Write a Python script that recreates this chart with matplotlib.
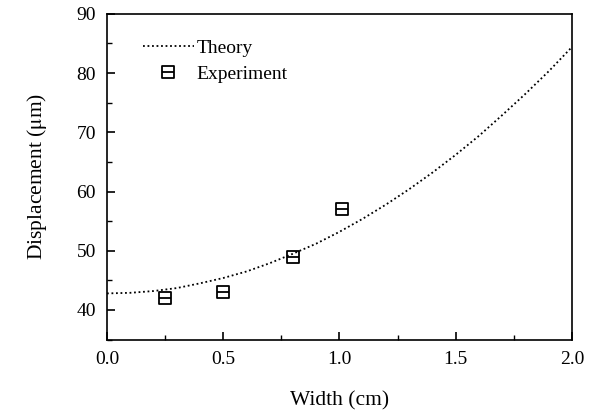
import matplotlib
matplotlib.use("Agg")
import matplotlib.pyplot as plt
from matplotlib.path import Path
from matplotlib.ticker import MultipleLocator

# Theory curve (width in cm, displacement in um)
theory_x = [0.0, 0.1, 0.2, 0.3, 0.4, 0.5, 0.6, 0.7, 0.8, 0.9, 1.0,
            1.1, 1.2, 1.3, 1.4, 1.5, 1.6, 1.7, 1.8, 1.9, 2.0]
theory_y = [42.8, 42.9, 43.2, 43.7, 44.5, 45.4, 46.5, 47.9, 49.5, 51.2, 53.2,
            55.4, 57.8, 60.4, 63.2, 66.2, 69.4, 72.9, 76.5, 80.3, 84.4]

# Measured points
exp_x = [0.25, 0.50, 0.80, 1.01]
exp_y = [42.0, 43.0, 49.0, 57.0]

x_ticks = [0.0, 0.5, 1.0, 1.5, 2.0]
y_ticks = [40, 50, 60, 70, 80, 90]

plt.rcParams["font.family"] = ["Liberation Serif", "DejaVu Serif"]
plt.rcParams["mathtext.fontset"] = "stix"

# square with a horizontal bar through the middle
box_marker = Path(
    [(-1, -1), (1, -1), (1, 1), (-1, 1), (-1, -1), (-1, 0), (1, 0)],
    [Path.MOVETO, Path.LINETO, Path.LINETO, Path.LINETO, Path.CLOSEPOLY,
     Path.MOVETO, Path.LINETO],
)

fig = plt.figure(figsize=(5.92, 4.12), dpi=100)
ax = fig.add_axes([0.1807, 0.1757, 0.7855, 0.7908])

ax.plot(theory_x, theory_y, color="black", linestyle=(0, (1, 1.5)),
        linewidth=1.3, label="Theory")
ax.plot(exp_x, exp_y, linestyle="none", marker=box_marker, markersize=8,
        markerfacecolor="none", markeredgecolor="black", markeredgewidth=1.3,
        label="Experiment")

ax.set_xlim(0.0, 2.0)
ax.set_ylim(35, 90)
ax.set_xticks(x_ticks)
ax.set_yticks(y_ticks)
ax.set_xticklabels([f"{v:.1f}" for v in x_ticks])
ax.xaxis.set_minor_locator(MultipleLocator(0.25))
ax.yaxis.set_minor_locator(MultipleLocator(5))
ax.tick_params(which="both", direction="in", top=False, right=False,
               labelsize=14, pad=8)
ax.tick_params(which="major", length=6, width=1.2)
ax.tick_params(which="minor", length=3.5, width=1.0)
for s in ax.spines.values():
    s.set_linewidth(1.2)

ax.set_xlabel("Width (cm)", fontsize=15.5, labelpad=17)
ax.set_ylabel("Displacement ($\\mathrm{\\mu}$m)", fontsize=15.5, labelpad=20)

ax.legend(loc="upper left", bbox_to_anchor=(0.04, 0.975), frameon=False,
          fontsize=14, handlelength=2.6, handletextpad=0.15, labelspacing=0.42)

fig.savefig("out.png", dpi=100)
